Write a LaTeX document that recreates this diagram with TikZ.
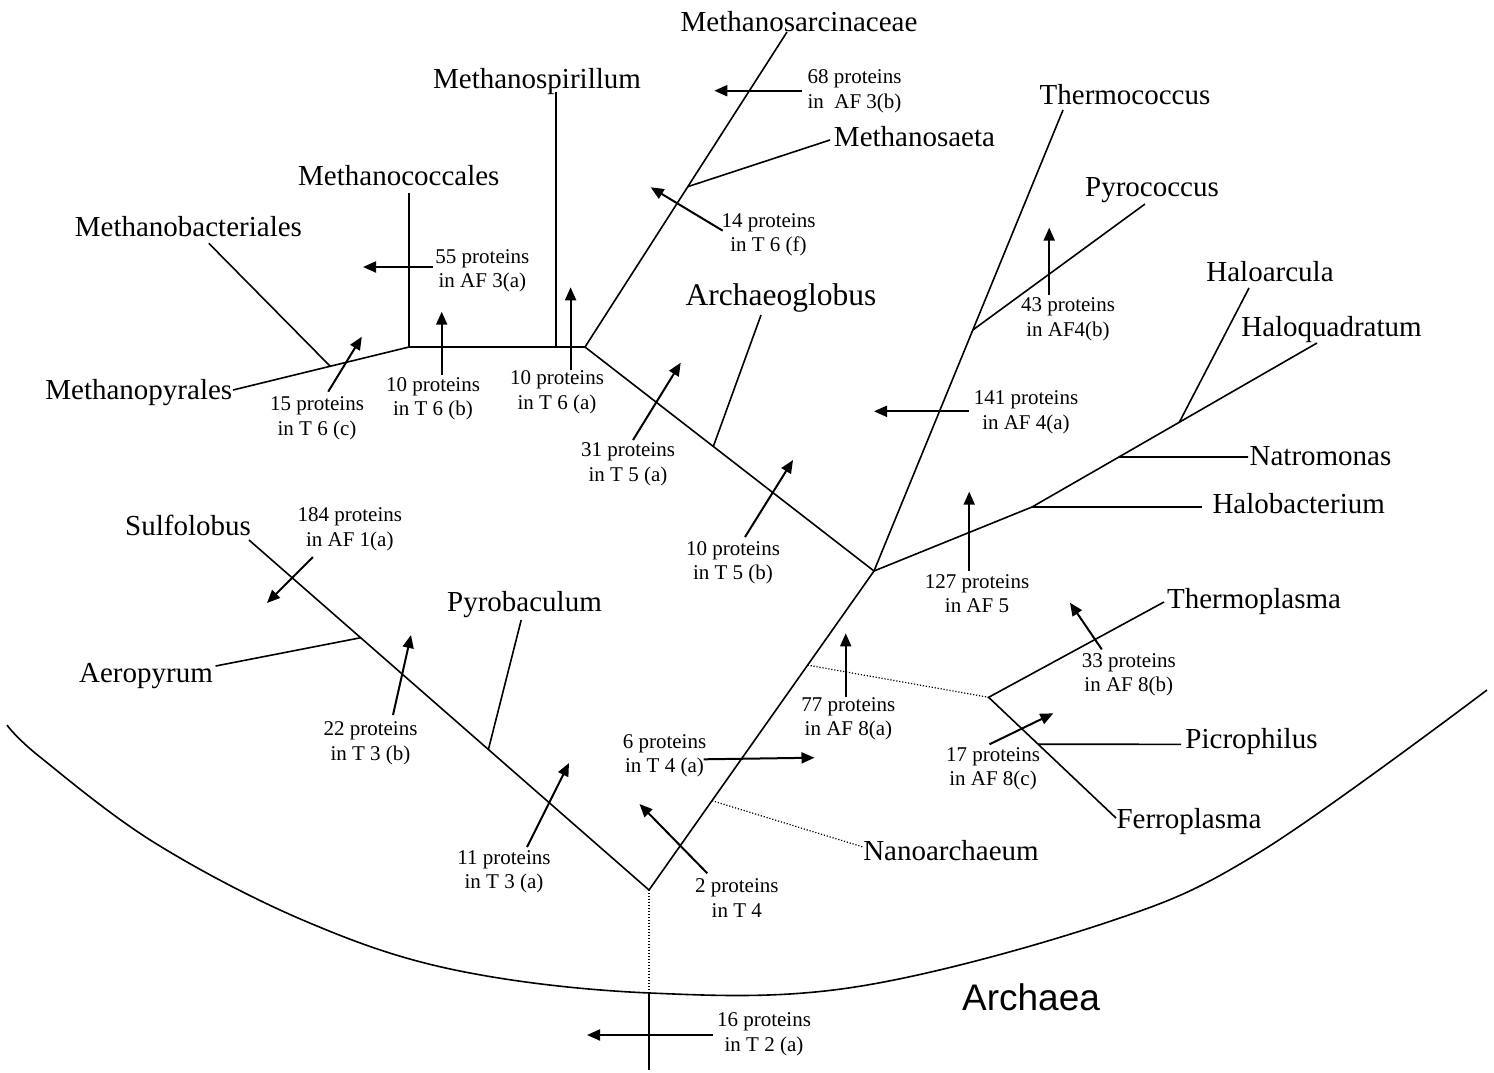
\documentclass[tikz,border=0pt]{standalone}
\usepackage{fontspec}
\setmainfont{Liberation Serif}
\newfontfamily\arialfont{Liberation Sans}
\usetikzlibrary{arrows.meta,calc}
\begin{document}
\begin{tikzpicture}[x=1pt,y=-1pt,
  treeline/.style={line width=1.6pt},
  dotline/.style={line width=1.2pt, dash pattern=on 1.2pt off 1.8pt},
  garrow/.style={line width=2pt, -{Triangle[length=13pt,width=11pt]}},
  taxonlabel/.style={font=\fontsize{29}{32}\selectfont, anchor=base, inner sep=0pt},
  bigtaxonlabel/.style={font=\fontsize{31.5}{34}\selectfont, anchor=base, inner sep=0pt},
  countlabel/.style={font=\fontsize{21}{24.5}\selectfont, align=center, inner sep=0pt},
  domainlabel/.style={font=\arialfont\fontsize{37}{40}\selectfont, anchor=base, inner sep=0pt}
]
\useasboundingbox (0,0) rectangle (1494,1072);

% ---------- taxon labels ----------
\node[taxonlabel] (tSar) at (799,31.5) {Methanosarcinaceae};
\node[taxonlabel] (tSpi) at (537,88) {Methanospirillum};
\node[taxonlabel] (tSae) at (914.5,146.7) {Methanosaeta};
\node[taxonlabel] (tTco) at (1125,104) {Thermococcus};
\node[taxonlabel] (tCoc) at (398.8,185) {Methanococcales};
\node[taxonlabel] (tPyc) at (1152,196) {Pyrococcus};
\node[taxonlabel] (tBac) at (188.4,236) {Methanobacteriales};
\node[taxonlabel] (tHar) at (1270,281) {Haloarcula};
\node[bigtaxonlabel] (tArg) at (781,305) {Archaeoglobus};
\node[taxonlabel] (tHqu) at (1331.5,336) {Haloquadratum};
\node[taxonlabel] (tMpy) at (138.8,399) {Methanopyrales};
\node[taxonlabel] (tNat) at (1320.5,465) {Natromonas};
\node[taxonlabel] (tHbc) at (1298.7,513.5) {Halobacterium};
\node[taxonlabel] (tSul) at (188,535) {Sulfolobus};
\node[taxonlabel] (tPbc) at (524.5,611.7) {Pyrobaculum};
\node[taxonlabel] (tTpl) at (1254,608) {Thermoplasma};
\node[taxonlabel] (tAer) at (146,682.7) {Aeropyrum};
\node[taxonlabel] (tPic) at (1251.5,748) {Picrophilus};
\node[taxonlabel] (tFer) at (1189,828) {Ferroplasma};
\node[taxonlabel] (tNan) at (951,860) {Nanoarchaeum};
\node[domainlabel] (tArc) at (1031,1010.5) {Archaea};

% ---------- count labels ----------
\node[countlabel] (c68) at (854.5,91) {68 proteins\\in\ \ AF 3(b)};
\node[countlabel] (c55) at (482.4,270.9) {55 proteins\\in AF 3(a)};
\node[countlabel] (c14) at (768.5,234.6) {14 proteins\\in T 6 (f)};
\node[countlabel] (c43) at (1068,319.5) {43 proteins\\in AF4(b)};
\node[countlabel] (c15) at (317,418.4) {15 proteins\\in T 6 (c)};
\node[countlabel] (c10b) at (433,398.9) {10 proteins\\in T 6 (b)};
\node[countlabel] (c10a) at (557,392.2) {10 proteins\\in T 6 (a)};
\node[countlabel] (c141) at (1026,412.1) {141 proteins\\in AF 4(a)};
\node[countlabel] (c31) at (628,464.1) {31 proteins\\in T 5 (a)};
\node[countlabel] (c10t5) at (733,562.5) {10 proteins\\in T 5 (b)};
\node[countlabel] (c184) at (349.8,529) {184 proteins\\in AF 1(a)};
\node[countlabel] (c127) at (977,593.4) {127 proteins\\in AF 5};
\node[countlabel] (c33) at (1128.8,674.6) {33 proteins\\in AF 8(b)};
\node[countlabel] (c77) at (848.4,719) {77 proteins\\in AF 8(a)};
\node[countlabel] (c22) at (370.5,743.1) {22 proteins\\in T 3 (b)};
\node[countlabel] (c6) at (664.5,755.6) {6 proteins\\in T 4 (a)};
\node[countlabel] (c17) at (993,769) {17 proteins\\in AF 8(c)};
\node[countlabel] (c11) at (504,871.8) {11 proteins\\in T 3 (a)};
\node[countlabel] (c2) at (736.8,897.9) {2 proteins\\in T 4};
\node[countlabel] (c16) at (764,1034.5) {16 proteins\\in T 2 (a)};

% ---------- tree coordinates ----------
\coordinate (R) at (649,890);
\coordinate (C) at (874,571);
\coordinate (M1) at (585,347);
\coordinate (M2) at (409,347);
\coordinate (SulEnd) at (249,540);
\coordinate (AerJ) at ($(R)!0.7208!(SulEnd)$);
\coordinate (AerEnd) at (215.6,666);
\coordinate (PbcJ) at ($(R)!0.4015!(SulEnd)$);
\coordinate (PbcEnd) at (521.2,620);
\coordinate (NanJ) at ($(R)!0.28!(C)$);
\coordinate (NanEnd) at (863,847);
\coordinate (TplJ) at ($(R)!0.705!(C)$);
\coordinate (T) at (988.6,697.3);
\coordinate (TplEnd) at (1164,602);
\coordinate (FerEnd) at (1116,818);
\coordinate (PicJ) at ($(T)!0.389!(FerEnd)$);
\coordinate (PicEnd) at (1181,744.3);
\coordinate (TcoEnd) at (1063,110);
\coordinate (PycJ) at ($(C)!0.5228!(TcoEnd)$);
\coordinate (PycEnd) at (1145,204);
\coordinate (H1) at (1032,507);
\coordinate (HquEnd) at (1317,343);
\coordinate (NatJ) at ($(H1)!0.305!(HquEnd)$);
\coordinate (NatEnd) at (1248,457);
\coordinate (HarJ) at ($(H1)!0.517!(HquEnd)$);
\coordinate (HarEnd) at (1249,288);
\coordinate (HbcEnd) at (1202,507);
\coordinate (ArgJ) at ($(C)!0.556!(M1)$);
\coordinate (ArgEnd) at (761,315);
\coordinate (SarEnd) at (787,32);
\coordinate (SaeJ) at ($(M1)!0.509!(SarEnd)$);
\coordinate (SaeEnd) at (830,140);
\coordinate (SpiJ) at (556,347);
\coordinate (SpiEnd) at (556,92);
\coordinate (CocEnd) at (409,193);
\coordinate (MpyEnd) at (233,390);
\coordinate (BacJ) at ($(M2)!0.4477!(MpyEnd)$);
\coordinate (BacEnd) at (208.8,243.3);
\coordinate (RootArc) at (649,992);
\coordinate (RootEnd) at (649,1070);

% ---------- tree branches ----------
\draw[treeline] (SulEnd) -- (R) -- (C);
\draw[treeline] (AerJ) -- (AerEnd);
\draw[treeline] (PbcJ) -- (PbcEnd);
\draw[dotline] (NanJ) -- (NanEnd);
\draw[dotline] (TplJ) -- (T);
\draw[treeline] (TplEnd) -- (T) -- (FerEnd);
\draw[treeline] (PicJ) -- (PicEnd);
\draw[treeline] (C) -- (TcoEnd);
\draw[treeline] (PycJ) -- (PycEnd);
\draw[treeline] (C) -- (H1) -- (HquEnd);
\draw[treeline] (NatJ) -- (NatEnd);
\draw[treeline] (HarJ) -- (HarEnd);
\draw[treeline] (H1) -- (HbcEnd);
\draw[treeline] (C) -- (M1) -- (M2) -- (MpyEnd);
\draw[treeline] (ArgJ) -- (ArgEnd);
\draw[treeline] (M1) -- (SarEnd);
\draw[treeline] (SaeJ) -- (SaeEnd);
\draw[treeline] (SpiJ) -- (SpiEnd);
\draw[treeline] (M2) -- (CocEnd);
\draw[treeline] (BacJ) -- (BacEnd);
\draw[dotline] (R) -- (RootArc);
\draw[treeline] (RootArc) -- (RootEnd);

% ---------- Archaea boundary ----------
\draw[line width=1.6pt] plot[smooth, tension=0.6] coordinates {(7,725) (40,757) (155,843) (305,921) (455,970) (650,993) (855,987) (1105,923) (1260,852) (1487,690)};

% ---------- arrow coordinates ----------
\coordinate (a68s) at (801.7,90.7);   \coordinate (a68e) at (714.3,90.7);
\coordinate (a55s) at (433,267);      \coordinate (a55e) at (363,267);
\coordinate (a14s) at (722.7,230.7);  \coordinate (a14e) at (650.7,187.3);
\coordinate (a43s) at (1049.2,295.4); \coordinate (a43e) at (1049.2,227.6);
\coordinate (a15s) at (328.2,391.7);  \coordinate (a15e) at (361.8,336.7);
\coordinate (a10bs) at (441.7,375);   \coordinate (a10be) at (441.7,311.7);
\coordinate (a10as) at (570.6,370);   \coordinate (a10ae) at (570.6,287.3);
\coordinate (a141s) at (969,411.3);   \coordinate (a141e) at (874,411.3);
\coordinate (a31s) at (633,440);      \coordinate (a31e) at (680.7,362.7);
\coordinate (a10ts) at (745,537);     \coordinate (a10te) at (793,460);
\coordinate (a184s) at (313,557);     \coordinate (a184e) at (267,603);
\coordinate (a127s) at (969.2,571);   \coordinate (a127e) at (969.2,491.7);
\coordinate (a33s) at (1101.8,649.4); \coordinate (a33e) at (1070,602.7);
\coordinate (a77s) at (845.7,696.7);  \coordinate (a77e) at (845.7,633.3);
\coordinate (a22s) at (393,715);      \coordinate (a22e) at (411,635);
\coordinate (a6s) at (703.7,759.3);   \coordinate (a6e) at (814.5,757.7);
\coordinate (a17s) at (989.5,744.3);  \coordinate (a17e) at (1053.3,713.3);
\coordinate (a11s) at (527,847);      \coordinate (a11e) at (569,763);
\coordinate (a2s) at (707.3,873.3);   \coordinate (a2e) at (639.5,804);
\coordinate (a16s) at (713,1035);     \coordinate (a16e) at (587,1035);

% ---------- arrows ----------
\foreach \a in {a68,a55,a14,a43,a15,a10b,a10a,a141,a31,a10t,a184,a127,a33,a77,a22,a6,a17,a11,a2,a16}
  \draw[garrow] (\a s) -- (\a e);
\end{tikzpicture}
\end{document}
